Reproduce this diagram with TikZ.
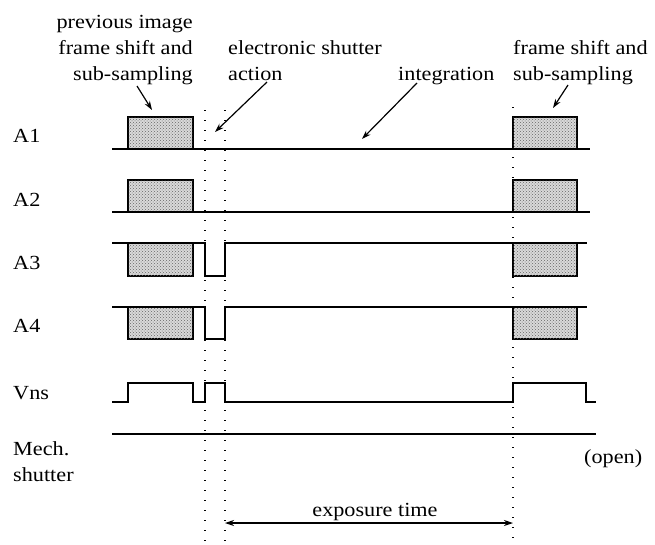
\documentclass[tikz,border=0pt]{standalone}
\usepackage{fontspec}
\setmainfont{Liberation Serif}
\usetikzlibrary{patterns,arrows.meta}

\begin{document}
\begin{tikzpicture}[x=1pt,y=-1pt,
  wave/.style={line width=1.5pt},
  busy/.style={line width=1.5pt, fill=black!15, postaction={pattern=crosshatch dots, pattern color=black!60}},
  tick/.style={line width=1.4pt, dash pattern=on 1.4pt off 8.6pt},
  lbl/.style={font=\fontsize{20}{26}\selectfont, inner sep=0pt, xscale=1.11},
  pointer/.style={line width=1.2pt, -{Stealth[length=9pt,width=6pt]}}]
\useasboundingbox (0,0) rectangle (655,544);
% dotted time marks
\draw [tick] (205,110) -- (205,544);
\draw [tick] (225,110) -- (225,544);
\draw [tick] (513,107) -- (513,544);
% A1 and A2
\draw [busy] (128,117) rectangle (193,149);
\draw [busy] (513,117) rectangle (577,149);
\draw [wave] (112,149) -- (590,149);
\draw [busy] (128,180) rectangle (193,212);
\draw [busy] (513,180) rectangle (577,212);
\draw [wave] (112,212) -- (590,212);
% A3 and A4
\draw [busy] (128,243) rectangle (193,276);
\draw [busy] (513,243) rectangle (577,276);
\draw [wave] (112,243) -- (205,243) -- (205,276) -- (225,276) -- (225,243) -- (587,243);
\draw [busy] (128,307) rectangle (193,339);
\draw [busy] (513,307) rectangle (577,339);
\draw [wave] (112,307) -- (205,307) -- (205,339) -- (225,339) -- (225,307) -- (587,307);
% Vns and mechanical shutter
\draw [wave] (112,402) -- (128,402) -- (128,383) -- (193,383) -- (193,402) -- (205,402) -- (205,383) -- (225,383) -- (225,402) -- (513,402) -- (513,383) -- (586,383) -- (586,402) -- (596,402);
\draw [wave] (112,434) -- (596,434);
% signal names
\node [lbl, anchor=base west] (nA1) at (13,142) {A1};
\node [lbl, anchor=base west] (nA2) at (13,206) {A2};
\node [lbl, anchor=base west] (nA3) at (13,269) {A3};
\node [lbl, anchor=base west] (nA4) at (13,332) {A4};
\node [lbl, anchor=base west] (nVns) at (13,399) {Vns};
\node [lbl, anchor=base west, align=left] (nMech) at (13,481) {Mech.\\shutter};
\node [lbl, anchor=base west] (nOpen) at (584,463) {(open)};
% phase labels
\node [lbl, anchor=base east, align=right] (prevLbl) at (193,80) {previous image\\frame shift and\\sub-sampling};
\node [lbl, anchor=base west, align=left] (esLbl) at (228,80) {electronic shutter\\action};
\node [lbl, anchor=base west] (intLbl) at (398,80) {integration};
\node [lbl, anchor=base west, align=left] (fsLbl) at (513,80) {frame shift and\\sub-sampling};
% pointers
\coordinate (prevFrom) at (137,86);
\coordinate (prevTo) at (152,110);
\coordinate (esFrom) at (267,82);
\coordinate (esTo) at (215,132);
\coordinate (intFrom) at (417,83);
\coordinate (intTo) at (362,139);
\coordinate (fsFrom) at (568,85);
\coordinate (fsTo) at (553,108);
\draw [pointer] (prevFrom) -- (prevTo);
\draw [pointer] (esFrom) -- (esTo);
\draw [pointer] (intFrom) -- (intTo);
\draw [pointer] (fsFrom) -- (fsTo);
% exposure time
\coordinate (expL) at (225,523);
\coordinate (expR) at (513,523);
\draw [line width=1.2pt, {Stealth[length=9pt,width=6pt]}-{Stealth[length=9pt,width=6pt]}] (expL) -- (expR);
\node [lbl, anchor=base] (expLbl) at (375,516) {exposure time};
\end{tikzpicture}
\end{document}
